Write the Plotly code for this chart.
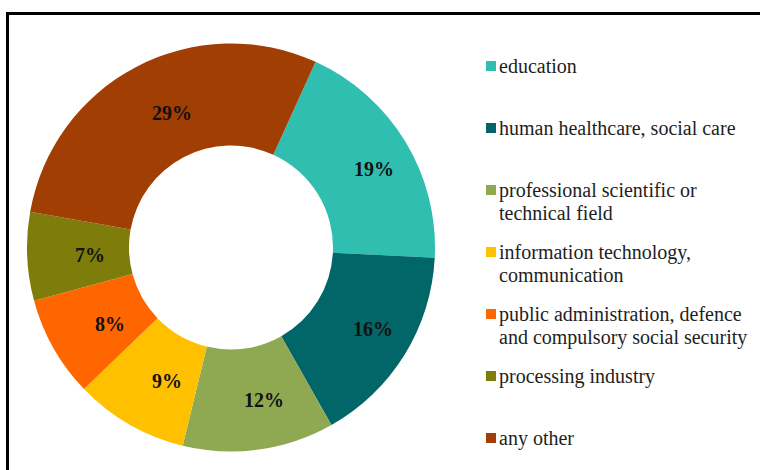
import math
import plotly.graph_objects as go

# Share of respondents by field of employment
labels = [
    "education",
    "human healthcare, social care",
    "professional scientific or<br>technical field",
    "information technology,<br>communication",
    "public administration, defence<br>and compulsory social security",
    "processing industry",
    "any other",
]
shares = [19, 16, 12, 9, 8, 7, 29]
colors = ["#2FBEB0", "#016667", "#8FA953", "#FFC000", "#FF6600", "#7E7D0B", "#A13E03"]

W, H = 760, 470
SERIF = "Liberation Serif"


def px(x):
    return x / W


def py(y):
    return 1 - y / H


# Donut geometry (pixels)
cx, cy, r = 231, 247.5, 204
hole = 0.5
rotation = 24.5

fig = go.Figure(
    go.Pie(
        labels=labels,
        values=shares,
        sort=False,
        direction="clockwise",
        rotation=rotation,
        hole=hole,
        marker=dict(colors=colors, line=dict(width=0)),
        textinfo="none",
        showlegend=False,
        domain=dict(x=[px(cx - r), px(cx + r)], y=[py(cy + r), py(cy - r)]),
    )
)

annotations = []
shapes = []

# Percentage labels, centred in the ring at each slice's mid-angle
total = sum(shares)
r_mid = r * (1 + hole) / 2
dx_lab, dy_lab = 12, 1
cum = 0
for v in shares:
    ang = math.radians(rotation + 360 * (cum + v / 2) / total)
    cum += v
    lx = cx + r_mid * math.sin(ang) + dx_lab
    ly = cy - r_mid * math.cos(ang) + dy_lab
    annotations.append(
        dict(
            text=f"<b>{round(100 * v / total)}%</b>", xref="paper", yref="paper",
            x=px(lx), y=py(ly), xanchor="center", yanchor="middle", showarrow=False,
            font=dict(family=SERIF, size=20, color="#111111"),
        )
    )

# Legend at the right: square swatch plus wrapped label per category
y0, step, line_h = 66, 62, 23
for i, (lab, col) in enumerate(zip(labels, colors)):
    yc = y0 + i * step
    shapes.append(
        dict(
            type="rect", xref="paper", yref="paper",
            x0=px(486), x1=px(496), y0=py(yc + 5), y1=py(yc - 5),
            fillcolor=col, line=dict(width=0),
        )
    )
    for j, line in enumerate(lab.split("<br>")):
        annotations.append(
            dict(
                text=line, xref="paper", yref="paper",
                x=px(497), y=py(yc + j * line_h),
                xanchor="left", yanchor="middle", showarrow=False,
                font=dict(family=SERIF, size=20, color="#1e1e1e"),
            )
        )

# Black frame running off the right and bottom edges
shapes.append(
    dict(
        type="rect", xref="paper", yref="paper",
        x0=px(7.5), x1=1.05, y0=-0.05, y1=py(13.5),
        line=dict(color="black", width=3), fillcolor="rgba(0,0,0,0)",
    )
)

fig.update_layout(
    width=W,
    height=H,
    margin=dict(l=0, r=0, t=0, b=0),
    paper_bgcolor="white",
    plot_bgcolor="white",
    shapes=shapes,
    annotations=annotations,
)

fig.write_html("out.html")
